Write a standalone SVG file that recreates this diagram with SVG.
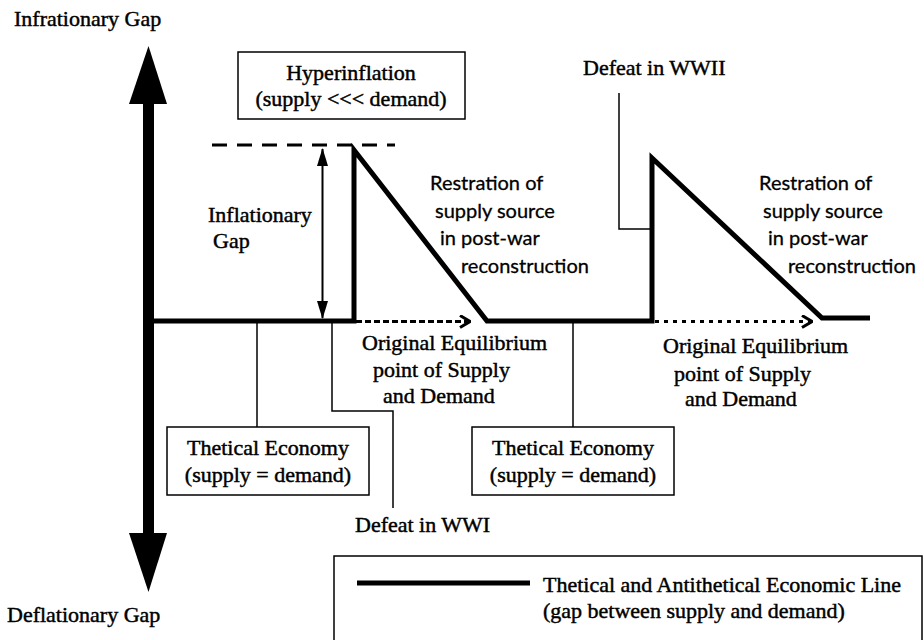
<svg xmlns="http://www.w3.org/2000/svg" width="924" height="640" viewBox="0 0 924 640">
<style>
.serif{font-family:"Liberation Serif","Times New Roman",serif;font-size:22px;fill:#000;stroke:#000;stroke-width:0.45}
.sans{font-family:Lato,"Open Sans",sans-serif;font-size:20px;fill:#000;stroke:#000;stroke-width:0.3}
.thin{fill:none;stroke:#000;stroke-width:1.5}
.box{fill:#fff;stroke:#000;stroke-width:1.5}
.econ{fill:none;stroke:#000;stroke-width:5;stroke-linejoin:miter}
.mid{text-anchor:middle}
</style>
<defs>
<marker id="tri" viewBox="0 0 18 11" refX="17" refY="5.5" markerWidth="18" markerHeight="11" markerUnits="userSpaceOnUse" orient="auto-start-reverse">
<path d="M0,0 L18,5.5 L0,11 Z" fill="#000"/>
</marker>
<marker id="chev" viewBox="0 0 12 14" refX="11" refY="7" markerWidth="12" markerHeight="14" markerUnits="userSpaceOnUse" orient="auto">
<path d="M1,1 L11,7 L1,13" fill="none" stroke="#000" stroke-width="3"/>
</marker>
</defs>

<g id="axis">
<rect x="143" y="102" width="11" height="433" fill="#000"/>
<polygon points="148.5,46 129,104 167,104" fill="#000"/>
<polygon points="148.5,592 129,533 167,533" fill="#000"/>
</g>

<g id="labels-axis">
<text class="serif" x="14" y="26">Infrationary Gap</text>
<text class="serif" x="7" y="622">Deflationary Gap</text>
</g>

<g id="connectors">
<polyline class="thin" points="257,321 257,427"/>
<polyline class="thin" points="332,321 332,411 393,411 393,508"/>
<polyline class="thin" points="573,321 573,427"/>
<polyline class="thin" points="619,93 619,229 652,229"/>
<line x1="212" y1="145" x2="395" y2="145" stroke="#000" stroke-width="3" stroke-dasharray="15 10"/>
<line x1="322.5" y1="149" x2="322.5" y2="318" stroke="#000" stroke-width="2" marker-start="url(#tri)" marker-end="url(#tri)"/>
<line x1="356" y1="321.5" x2="470" y2="321.5" stroke="#000" stroke-width="3" stroke-dasharray="6 3" marker-end="url(#chev)"/>
<line x1="655" y1="321.5" x2="812" y2="321.5" stroke="#000" stroke-width="3" stroke-dasharray="4 5" marker-end="url(#chev)"/>
</g>

<g id="economic-line">
<polyline class="econ" points="148,321 354,321 354,150 487,321 652,321 652,158 822,318 870,318"/>
</g>

<g id="hyperinflation">
<rect class="box" x="238" y="52" width="227" height="67"/>
<text class="serif mid" x="351" y="80">Hyperinflation</text>
<text class="serif mid" x="351" y="106">(supply &lt;&lt;&lt; demand)</text>
</g>

<g id="inflationary-gap">
<text class="serif" x="208" y="222">Inflationary</text>
<text class="serif" x="213" y="248">Gap</text>
</g>

<g id="restoration-1">
<text class="sans" x="430" y="190">Restration of</text>
<text class="sans" x="435" y="218">supply source</text>
<text class="sans" x="440" y="245">in post-war</text>
<text class="sans" x="461" y="273">reconstruction</text>
</g>

<g id="restoration-2">
<text class="sans" x="759" y="190">Restration of</text>
<text class="sans" x="763" y="218">supply source</text>
<text class="sans" x="768" y="245">in post-war</text>
<text class="sans" x="788" y="273">reconstruction</text>
</g>

<g id="defeat-wwii">
<text class="serif" x="583" y="75">Defeat in WWII</text>
</g>

<g id="defeat-wwi">
<text class="serif" x="355" y="532">Defeat in WWI</text>
</g>

<g id="equilibrium-1">
<text class="serif" x="362" y="350">Original Equilibrium</text>
<text class="serif" x="373" y="377">point of Supply</text>
<text class="serif" x="383" y="403">and Demand</text>
</g>

<g id="equilibrium-2">
<text class="serif" x="663" y="353">Original Equilibrium</text>
<text class="serif" x="674" y="381">point of Supply</text>
<text class="serif" x="685" y="406">and Demand</text>
</g>

<g id="thetical-1">
<rect class="box" x="167" y="427" width="202" height="68"/>
<text class="serif mid" x="268" y="455">Thetical Economy</text>
<text class="serif mid" x="268" y="482">(supply = demand)</text>
</g>

<g id="thetical-2">
<rect class="box" x="472" y="427" width="202" height="68"/>
<text class="serif mid" x="573" y="455">Thetical Economy</text>
<text class="serif mid" x="573" y="482">(supply = demand)</text>
</g>

<g id="legend">
<polyline class="thin" points="334,641 334,556 922,556 922,641"/>
<line x1="357" y1="583" x2="530" y2="583" stroke="#000" stroke-width="5"/>
<text class="serif" x="543" y="592">Thetical and Antithetical Economic Line</text>
<text class="serif" x="543" y="618">(gap between supply and demand)</text>
</g>
</svg>
